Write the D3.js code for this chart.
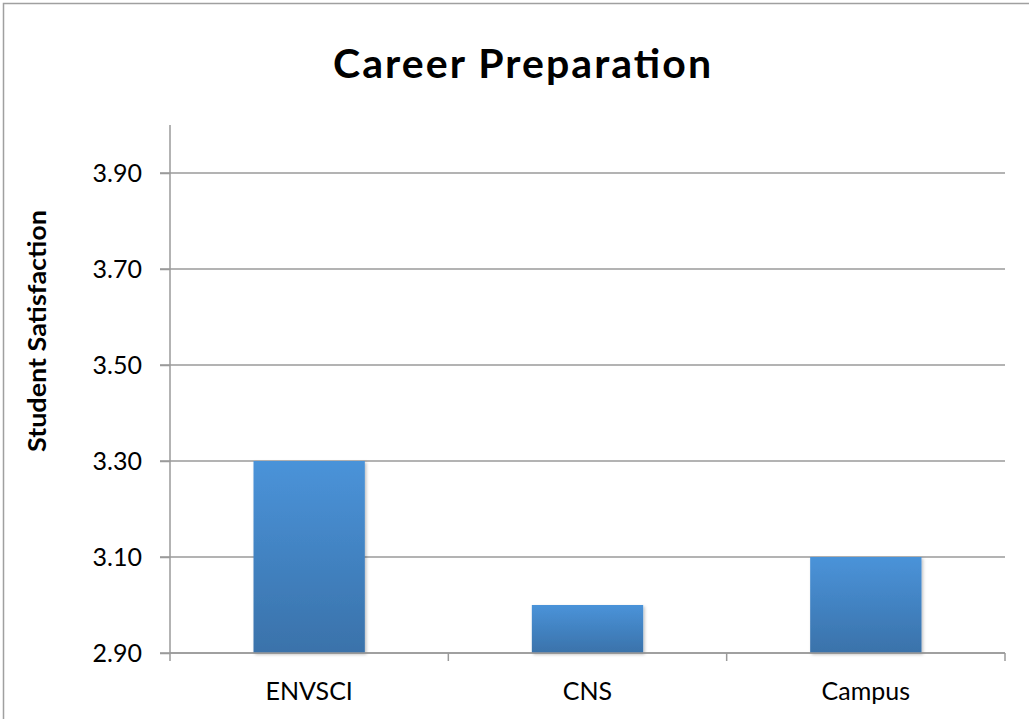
<!DOCTYPE html>
<html>
<head>
<meta charset="utf-8">
<script src="https://cdn.jsdelivr.net/npm/d3@7"></script>
<style>
  body { margin: 0; background: #fff; }
  text { font-family: Lato, "Open Sans", sans-serif; }
</style>
</head>
<body>
<script>
// data
var categories = ["ENVSCI", "CNS", "Campus"];
var satisfaction = [3.30, 3.00, 3.10];
var yTicks = [2.90, 3.10, 3.30, 3.50, 3.70, 3.90];

var W = 1029, H = 719;
var plotLeft = 170, plotRight = 1005, plotTop = 125, plotBottom = 653;

var svg = d3.select("body").append("svg")
    .attr("width", W)
    .attr("height", H);

// outer frame
svg.append("rect")
    .attr("x", 3.5).attr("y", 3.5)
    .attr("width", W + 10).attr("height", H + 10)
    .attr("fill", "none")
    .attr("stroke", "#a0a0a0")
    .attr("stroke-width", 1.5);

var defs = svg.append("defs");
var grad = defs.append("linearGradient")
    .attr("id", "barGrad")
    .attr("x1", 0).attr("y1", 0).attr("x2", 0).attr("y2", 1);
grad.append("stop").attr("offset", "0%").attr("stop-color", "#4a93d9");
grad.append("stop").attr("offset", "100%").attr("stop-color", "#3a72aa");

var shadow = defs.append("filter").attr("id", "shadow")
    .attr("x", "-10%").attr("y", "-10%").attr("width", "130%").attr("height", "130%");
shadow.append("feDropShadow")
    .attr("dx", 1.5).attr("dy", 1.5).attr("stdDeviation", 1.5)
    .attr("flood-color", "#000").attr("flood-opacity", 0.25);

var x = d3.scaleBand()
    .domain(categories)
    .range([plotLeft, plotRight])
    .paddingInner(0.6)
    .paddingOuter(0.3);

var y = d3.scaleLinear()
    .domain([2.9, 4.0])
    .range([plotBottom, plotTop]);

// gridlines
svg.append("g")
  .selectAll("line")
  .data(yTicks)
  .enter().append("line")
    .attr("x1", plotLeft - 10)
    .attr("x2", plotRight)
    .attr("y1", function(d) { return y(d); })
    .attr("y2", function(d) { return y(d); })
    .attr("stroke", "#9a9a9a")
    .attr("stroke-width", 1.5);

// y axis
var yAxis = d3.axisLeft(y)
    .tickValues(yTicks)
    .tickFormat(d3.format(".2f"))
    .tickSize(10)
    .tickPadding(18);

var gy = svg.append("g")
    .attr("transform", "translate(" + plotLeft + ",0)")
    .call(yAxis);
gy.select(".domain").remove();
gy.selectAll(".tick line").attr("stroke", "#9a9a9a").attr("stroke-width", 1.5);
gy.selectAll(".tick text")
    .attr("font-size", 25)
    .attr("fill", "#000")
    .attr("dy", "0.35em");

svg.append("line")
    .attr("x1", plotLeft).attr("x2", plotLeft)
    .attr("y1", plotTop).attr("y2", plotBottom + 8)
    .attr("stroke", "#9a9a9a").attr("stroke-width", 1.5);

// bars
svg.append("g")
  .selectAll("rect")
  .data(categories)
  .enter().append("rect")
    .attr("x", function(d) { return x(d); })
    .attr("y", function(d, i) { return y(satisfaction[i]); })
    .attr("width", x.bandwidth())
    .attr("height", function(d, i) { return y(2.9) - y(satisfaction[i]); })
    .attr("fill", "url(#barGrad)")
    .attr("filter", "url(#shadow)");

// x axis
svg.append("line")
    .attr("x1", plotLeft).attr("x2", plotRight)
    .attr("y1", plotBottom).attr("y2", plotBottom)
    .attr("stroke", "#9a9a9a").attr("stroke-width", 1.5);

var sep = categories.map(function(d) { return x(d) - x.step() * 0.3; });
sep.push(plotRight);
svg.append("g")
  .selectAll("line")
  .data(sep.slice(1))
  .enter().append("line")
    .attr("x1", function(d) { return d; })
    .attr("x2", function(d) { return d; })
    .attr("y1", plotBottom).attr("y2", plotBottom + 8)
    .attr("stroke", "#9a9a9a").attr("stroke-width", 1.5);

svg.append("g")
  .selectAll("text")
  .data(categories)
  .enter().append("text")
    .attr("x", function(d) { return x(d) + x.bandwidth() / 2; })
    .attr("y", 700)
    .attr("text-anchor", "middle")
    .attr("font-size", 25)
    .text(function(d) { return d; });

// title
svg.append("text")
    .attr("x", 522)
    .attr("y", 78)
    .attr("text-anchor", "middle")
    .attr("font-size", 41)
    .attr("font-weight", "bold")
    .attr("textLength", 378)
    .text("Career Preparation");

// y label
svg.append("text")
    .attr("transform", "translate(46,331) rotate(-90)")
    .attr("text-anchor", "middle")
    .attr("font-size", 25)
    .attr("font-weight", "bold")
    .attr("textLength", 242)
    .attr("lengthAdjust", "spacingAndGlyphs")
    .text("Student Satisfaction");
</script>
</body>
</html>
